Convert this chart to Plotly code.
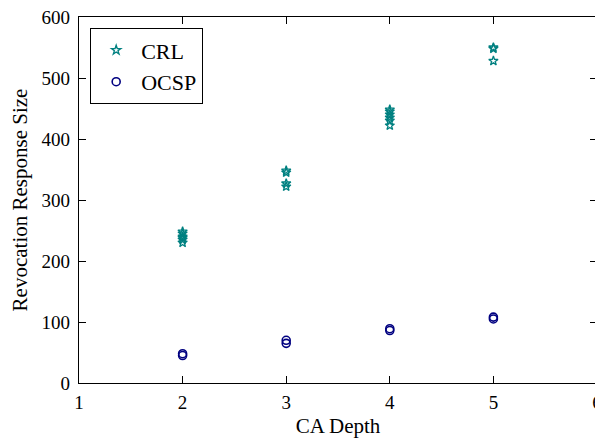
import plotly.graph_objects as go

crl_x = [2, 2, 2, 2, 2, 2, 3, 3, 3, 3, 4, 4, 4, 4, 4, 4, 5, 5, 5]
crl_y = [230, 235, 238, 240, 245, 248, 322, 327, 345, 348, 422, 430, 435, 440, 445, 448, 528, 548, 550]
ocsp_x = [2, 2, 3, 3, 4, 4, 5, 5]
ocsp_y = [45, 48, 65, 70, 86, 89, 105, 108]

font = "Liberation Serif"
fig = go.Figure()
fig.add_trace(go.Scatter(x=crl_x, y=crl_y, mode="markers", name="CRL",
                         marker=dict(symbol="star-open", size=7, color="#008080", line=dict(width=1.3, color="#008080"))))
fig.add_trace(go.Scatter(x=ocsp_x, y=ocsp_y, mode="markers", name="OCSP",
                         marker=dict(symbol="circle-open", size=8, color="#000080", line=dict(width=1.6, color="#000080"))))

axis_common = dict(showgrid=False, zeroline=False, showline=True, linecolor="black", linewidth=1.3,
                   mirror="allticks", ticks="inside", ticklen=7, tickcolor="black", tickwidth=1,
                   automargin=False, ticklabeloverflow="allow",
                   tickfont=dict(family=font, size=19, color="black"))
fig.update_xaxes(range=[1, 6], dtick=1, ticklabelstandoff=2,
                 title=dict(text="CA Depth", font=dict(family=font, size=21, color="black"), standoff=6), **axis_common)
fig.update_yaxes(range=[0, 600], dtick=100, ticklabelstandoff=4,
                 title=dict(text="Revocation Response Size", font=dict(family=font, size=21, color="black"), standoff=10), **axis_common)

# page body has an 8px margin, so the figure is sized/placed to compensate
fig.update_layout(
    width=595, height=436,
    margin=dict(l=71, r=6, t=9, b=61),
    plot_bgcolor="white", paper_bgcolor="white",
    font=dict(family=font, color="black"),
    legend=dict(x=0.021, y=0.97, xanchor="left", yanchor="top",
                bordercolor="black", borderwidth=1.3, bgcolor="white",
                font=dict(family=font, size=22, color="black"),
                itemwidth=40, tracegroupgap=0),
)
fig.write_html("out.html")
